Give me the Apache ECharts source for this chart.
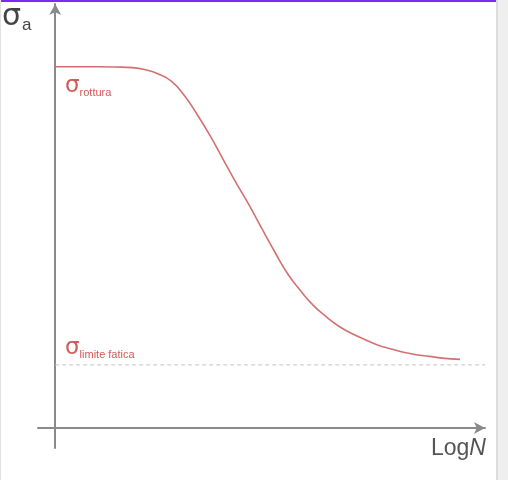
<!DOCTYPE html>
<html><head><meta charset="utf-8">
<script src="https://cdn.jsdelivr.net/npm/echarts@6/dist/echarts.min.js"></script>
<style>html,body{margin:0;padding:0;background:#fff}#c{width:508px;height:480px}</style>
</head><body><div id="c"></div>
<script>
// S-N (Wöhler) curve, x = LogN (arbitrary units), y = sigma_a (arbitrary units)
const curveX = [0, 5, 10, 14, 18, 21, 24, 27, 30, 33, 36, 39, 42, 45, 48, 51, 54, 57, 60, 63, 66, 69, 72, 75, 78, 81, 84, 87, 90, 94.2];
const curveY = [85.2, 85.2, 85.2, 85.15, 85.0, 84.5, 83.5, 81.8, 78.5, 74.0, 69.0, 63.5, 58.0, 52.8, 47.2, 41.7, 36.5, 32.5, 29.0, 26.3, 24.0, 22.3, 20.9, 19.6, 18.7, 17.9, 17.3, 16.9, 16.5, 16.2];
const fatigueLimit = 14.9;
const fatigueX = [0, 100];

const chart = echarts.init(document.getElementById('c'), null, {renderer: 'canvas'});
const axisCommon = {
  type: 'value',
  axisTick: {show: false},
  axisLabel: {show: false},
  splitLine: {show: false},
  axisLine: {show: true, onZero: true, symbol: ['none', 'arrow'], symbolSize: [9, 11],
    lineStyle: {color: '#8a8a8a', width: 2}}
};
chart.setOption({
  animation: false,
  grid: {left: 38, right: 23, top: 4, bottom: 32},
  xAxis: Object.assign({}, axisCommon, {min: -4, max: 100}),
  yAxis: Object.assign({}, axisCommon, {min: -4.7, max: 100}),
  series: [
    {
      type: 'line', smooth: 0.5, symbol: 'none',
      data: curveX.map((x, i) => [x, curveY[i]]),
      lineStyle: {color: '#d47070', width: 1.6}
    },
    {
      type: 'line', symbol: 'none',
      data: fatigueX.map(x => [x, fatigueLimit]),
      lineStyle: {color: '#c4c4c4', width: 1, type: [4, 3]}
    }
  ],
  graphic: [
    {type: 'rect', left: 0, top: 0, shape: {width: 496, height: 2}, style: {fill: '#7a2cf5'}},
    {type: 'rect', left: 496, top: 0, shape: {width: 12, height: 480}, style: {fill: '#efefef'}},
    {type: 'rect', left: 496, top: 0, shape: {width: 2, height: 480}, style: {fill: '#dcdcdc'}},
    {type: 'rect', left: 0, top: 0, shape: {width: 1, height: 480}, style: {fill: '#e2e2e2'}},
    {type: 'text', left: 2, top: 2, style: {
      text: '{s|σ}{a|a}', rich: {
        s: {fontSize: 30, fontFamily: 'DejaVu Sans', fill: '#444'},
        a: {fontSize: 17, fontFamily: 'Liberation Sans', fill: '#444', padding: [16, 0, 0, 1]}
      }}},
    {type: 'text', left: 431, top: 437, style: {
      text: '{l|Log}{n|N}', rich: {
        l: {fontSize: 23, fontFamily: 'Liberation Sans', fill: '#555'},
        n: {fontSize: 23, fontFamily: 'Liberation Sans', fontStyle: 'italic', fill: '#555'}
      }}},
    {type: 'text', left: 65, top: 75, style: {
      text: '{s|σ}{t|rottura}', rich: {
        s: {fontSize: 23, fontFamily: 'DejaVu Sans', fill: '#d25a5a'},
        t: {fontSize: 11, fontFamily: 'Liberation Sans', fill: '#d25a5a', padding: [13, 0, 0, 0]}
      }}},
    {type: 'text', left: 65, top: 337, style: {
      text: '{s|σ}{t|limite fatica}', rich: {
        s: {fontSize: 23, fontFamily: 'DejaVu Sans', fill: '#d25a5a'},
        t: {fontSize: 11, fontFamily: 'Liberation Sans', fill: '#d25a5a', padding: [13, 0, 0, 0]}
      }}}
  ]
});
</script>
</body></html>
